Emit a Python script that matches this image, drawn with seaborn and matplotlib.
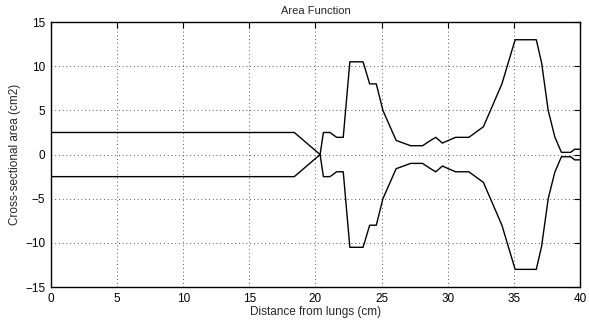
import numpy as np
import pandas as pd
import seaborn as sns
import matplotlib.pyplot as plt

# distance from lungs (cm) and the two walls of the tract (cm2)
dist = [0, 18.4, 20.35, 20.6, 21.1, 21.6, 22.1, 22.6, 23.6, 24.1, 24.6, 25.1,
        26.1, 27.2, 28.1, 28.7, 29.1, 29.6, 30.05, 30.6, 31.6, 32.7, 34.1,
        35.1, 36.7, 37.1, 37.6, 38.1, 38.6, 39.3, 39.6, 40]
upper = [2.5, 2.5, 0, 2.5, 2.5, 1.95, 1.95, 10.5, 10.5, 8.0, 8.0, 5.0,
         1.6, 1.0, 1.0, 1.6, 1.95, 1.3, 1.6, 1.95, 1.95, 3.15, 8.0,
         13.0, 13.0, 10.4, 5.0, 2.0, 0.25, 0.25, 0.6, 0.6]
lower = [-2.5, -2.5, 0, -2.5, -2.5, -1.95, -1.95, -10.5, -10.5, -8.0, -8.0, -5.0,
         -1.6, -1.0, -1.0, -1.6, -1.95, -1.3, -1.6, -1.95, -1.95, -3.15, -8.0,
         -13.0, -13.0, -10.4, -5.0, -2.0, -0.25, -0.25, -0.6, -0.6]

df = pd.DataFrame({'dist': dist, 'upper': upper, 'lower': lower})

sns.set_style('white')
plt.rcParams['font.family'] = ['Liberation Sans', 'DejaVu Sans']

fig = plt.figure(figsize=(5.89, 3.2), dpi=100)
ax = fig.add_axes([0.0866, 0.103, 0.898, 0.828])

sns.lineplot(data=df, x='dist', y='upper', sort=False, color='black', lw=1, ax=ax)
sns.lineplot(data=df, x='dist', y='lower', sort=False, color='black', lw=1, ax=ax)

ax.set_xlim(0, 40)
ax.set_ylim(-15, 15)
ax.set_xticks(np.arange(0, 41, 5))
ax.set_yticks(np.arange(-15, 16, 5))
ax.grid(True, color='#222222', linestyle=(0, (1, 3.5)), linewidth=0.6)
ax.tick_params(direction='in', length=4, width=0.8, labelsize=8.5,
               top=True, right=True, colors='black')
ax.tick_params(axis='x', pad=4)
ax.tick_params(axis='y', pad=4)
for s in ax.spines.values():
    s.set_color('black')
    s.set_linewidth(1)

ax.set_title('Area Function', fontsize=8, pad=6)
ax.set_xlabel('Distance from lungs (cm)', fontsize=8.5, labelpad=1)
ax.set_ylabel('Cross-sectional area (cm2)', fontsize=8.5, labelpad=3)

fig.savefig('out.png', dpi=100)
